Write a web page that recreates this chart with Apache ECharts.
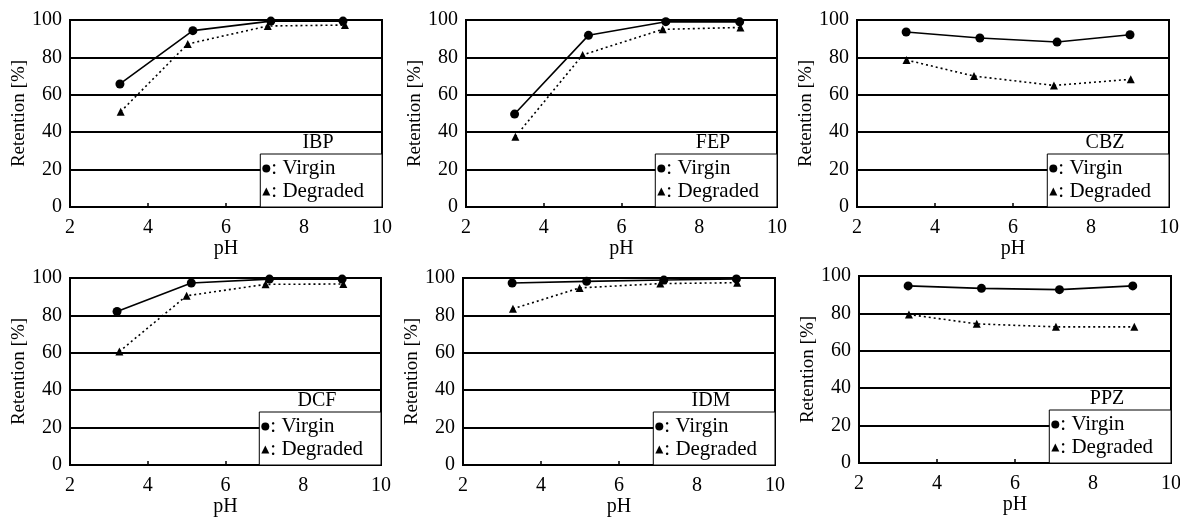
<!DOCTYPE html>
<html>
<head>
<meta charset="utf-8">
<script src="https://cdn.jsdelivr.net/npm/echarts@6/dist/echarts.min.js"></script>
<style>
html,body{margin:0;padding:0;background:#fff;}
#chart{width:1180px;height:518px;}
</style>
</head>
<body>
<div id="chart"></div>
<script>
// ---- data ----
const compounds = ['IBP', 'FEP', 'CBZ', 'DCF', 'IDM', 'PPZ'];
const seriesNames = ['Virgin', 'Degraded'];
const virginPH = [
  [3.28, 5.15, 7.15, 9.00],
  [3.25, 5.15, 7.14, 9.04],
  [3.26, 5.15, 7.13, 9.00],
  [3.21, 5.12, 7.13, 9.00],
  [3.26, 5.17, 7.15, 9.01],
  [3.26, 5.14, 7.14, 9.02]
];
const virginRet = [
  [65.8, 94.3, 99.4, 99.4],
  [49.7, 91.8, 99.1, 99.0],
  [93.6, 90.4, 88.2, 92.1],
  [82.1, 97.3, 99.4, 99.4],
  [97.3, 98.2, 98.9, 99.5],
  [94.7, 93.4, 92.7, 94.7]
];
const degradedPH = [
  [3.30, 5.02, 7.07, 9.05],
  [3.27, 5.00, 7.06, 9.06],
  [3.27, 5.00, 7.05, 9.02],
  [3.27, 5.00, 7.03, 9.03],
  [3.28, 4.99, 7.06, 9.03],
  [3.28, 5.02, 7.05, 9.06]
];
const degradedRet = [
  [51.0, 87.2, 96.8, 97.3],
  [37.6, 81.3, 95.0, 96.0],
  [78.6, 70.0, 65.0, 68.3],
  [60.7, 90.5, 96.6, 96.8],
  [83.5, 94.7, 97.0, 97.5],
  [79.4, 74.4, 72.8, 72.8]
];
const xTickMin = 2, xTickMax = 10, xTickStep = 2;
const yTickMin = 0, yTickMax = 100, yTickStep = 20;
const xName = 'pH';
const yName = 'Retention [%]';

// ---- layout ----
const W = 1180;
const FONT = '"Liberation Serif", "Times New Roman", serif';
const grids = [
  {left: 70,  top: 20,  width: 312, height: 187},
  {left: 466, top: 20,  width: 311, height: 187},
  {left: 857, top: 20,  width: 312, height: 187},
  {left: 70,  top: 278, width: 311, height: 187},
  {left: 463, top: 278, width: 312, height: 187},
  {left: 859, top: 276, width: 312, height: 187}
];
const LEG_W = 122, LEG_H = 53;

const option = {
  animation: false,
  backgroundColor: '#fff',
  textStyle: {fontFamily: FONT, color: '#000'},
  grid: [], xAxis: [], yAxis: [], series: [], legend: [], graphic: []
};

compounds.forEach((name, i) => {
  const g = grids[i];
  option.grid.push({
    left: g.left, top: g.top, width: g.width, height: g.height,
    show: true, borderColor: '#000', borderWidth: 2, backgroundColor: 'transparent',
    containLabel: false, outerBoundsMode: 'none'
  });
  option.xAxis.push({
    type: 'value', gridIndex: i, min: xTickMin, max: xTickMax, interval: xTickStep,
    name: xName, nameLocation: 'middle', nameGap: 30,
    nameTextStyle: {fontFamily: FONT, fontSize: 20, color: '#000'},
    axisLine: {show: true, lineStyle: {color: '#000', width: 2}},
    axisTick: {show: true, inside: true, length: 4, lineStyle: {color: '#000', width: 1.5}},
    axisLabel: {fontFamily: FONT, fontSize: 20, color: '#000', margin: 11},
    splitLine: {show: false}
  });
  option.yAxis.push({
    type: 'value', gridIndex: i, min: yTickMin, max: yTickMax, interval: yTickStep,
    name: yName, nameLocation: 'middle', nameGap: 41, nameRotate: 90,
    nameTextStyle: {fontFamily: FONT, fontSize: 19, color: '#000'},
    axisLine: {show: true, lineStyle: {color: '#000', width: 2}},
    axisTick: {show: false},
    axisLabel: {fontFamily: FONT, fontSize: 20, color: '#000', margin: 8},
    splitLine: {show: true, lineStyle: {color: '#000', width: 2, type: 'solid'}}
  });
  option.series.push({
    name: seriesNames[0], type: 'line', xAxisIndex: i, yAxisIndex: i,
    data: virginPH[i].map((x, k) => [x, virginRet[i][k]]),
    symbol: 'circle', symbolSize: 9, clip: false,
    itemStyle: {color: '#000'},
    lineStyle: {color: '#000', width: 1.6, type: 'solid'},
    z: 3
  });
  option.series.push({
    name: seriesNames[1], type: 'line', xAxisIndex: i, yAxisIndex: i,
    data: degradedPH[i].map((x, k) => [x, degradedRet[i][k]]),
    symbol: 'triangle', symbolSize: 8, clip: false,
    itemStyle: {color: '#000'},
    lineStyle: {color: '#000', width: 1.6, type: [2, 3]},
    z: 3
  });
  const right = g.left + g.width;
  const boxTop = g.top + g.height - LEG_H;
  option.legend.push({
    orient: 'vertical', right: W - right, top: boxTop,
    data: [{name: seriesNames[0], icon: 'circle'}, {name: seriesNames[1], icon: 'triangle'}],
    formatter: n => ': ' + n,
    selectedMode: false,
    itemWidth: 8, itemHeight: 8, itemGap: 2,
    padding: [4, 18, 5, 2],
    backgroundColor: '#fff', borderColor: '#000', borderWidth: 1,
    textStyle: {fontFamily: FONT, fontSize: 21, color: '#000', padding: [0, 0, 0, -4]},
    z: 10
  });
  option.graphic.push({
    type: 'text', x: right - LEG_W / 2 - 3, y: boxTop - 11, z: 20,
    style: {text: name, font: '20px ' + FONT, fill: '#000', textAlign: 'center', textVerticalAlign: 'middle'}
  });
});

const chart = echarts.init(document.getElementById('chart'), null, {renderer: 'canvas'});
chart.setOption(option);
</script>
</body>
</html>
